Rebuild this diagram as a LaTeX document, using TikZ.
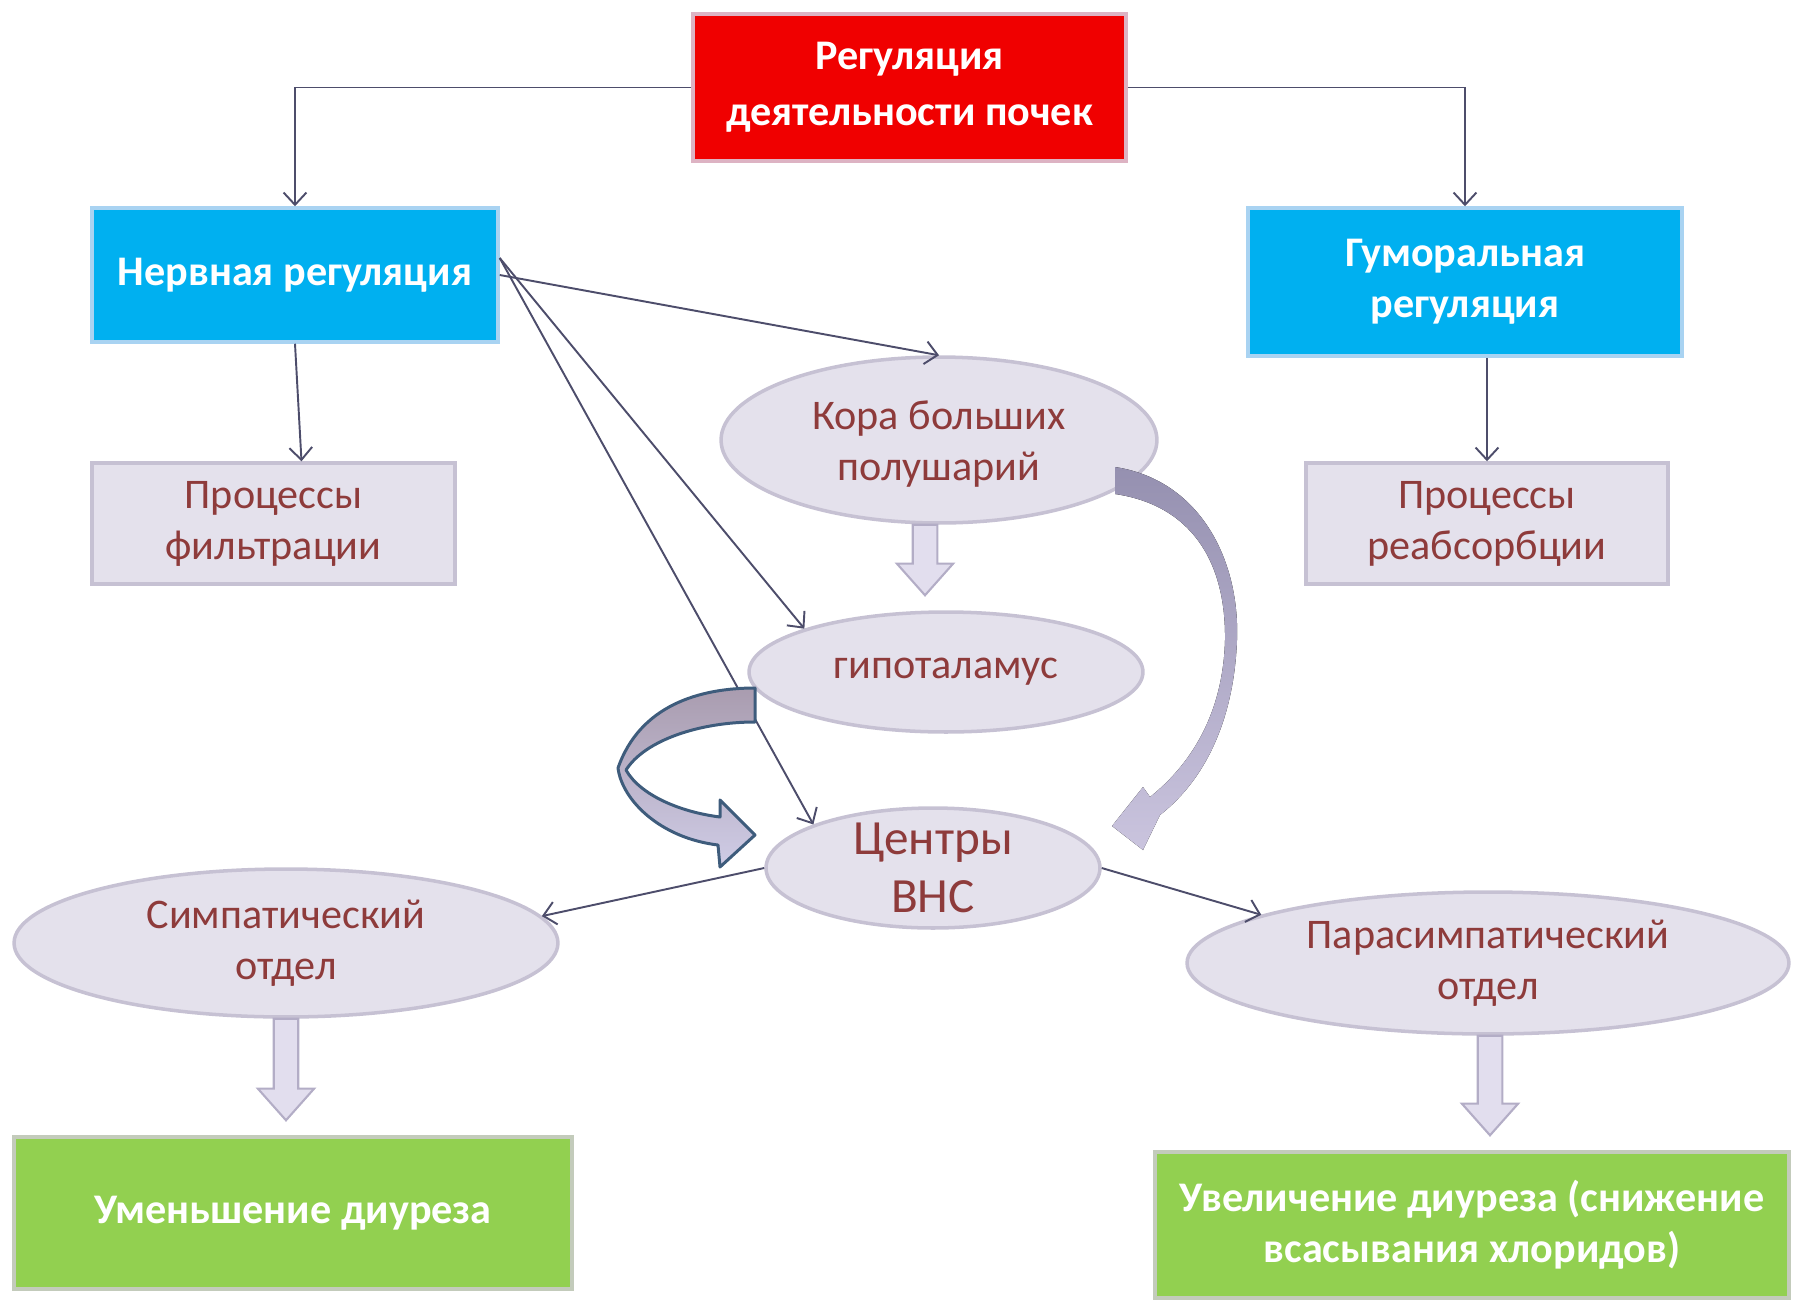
\documentclass[tikz,border=0pt]{standalone}
\usepackage{fontspec}
\setmainfont{Carlito}
\usetikzlibrary{shapes.geometric, arrows.meta, calc}
\definecolor{BoxRed}{HTML}{F00000}
\definecolor{RedEdge}{HTML}{DDB3C3}
\definecolor{BoxBlue}{HTML}{00B0F0}
\definecolor{BlueEdge}{HTML}{A9D3F2}
\definecolor{BoxGreen}{HTML}{92D050}
\definecolor{GreenEdge}{HTML}{C3CBBB}
\definecolor{LavFill}{HTML}{E4E1EC}
\definecolor{LavLine}{HTML}{C6C1D3}
\definecolor{TxtRed}{HTML}{8E3B3B}
\definecolor{LineGray}{HTML}{4D4D6B}
\definecolor{ArrFill}{HTML}{E2DEEE}
\definecolor{ArrLine}{HTML}{B3ADC6}
\definecolor{CurveTop}{HTML}{9590B0}
\definecolor{CurveBot}{HTML}{CAC4DE}
\definecolor{LoopLine}{HTML}{3E5C7C}
\definecolor{LoopTop}{HTML}{A99CAF}
\definecolor{LoopBot}{HTML}{CFCCE6}

\begin{document}
\begin{tikzpicture}[x=0.02cm, y=-0.02cm,
  every node/.style={font=\fontsize{24}{29}\selectfont},
  colbox/.style={rectangle, align=center, text=white, line width=2pt, font=\bfseries\fontsize{24}{29}\selectfont},
  lavbox/.style={rectangle, align=center, text=TxtRed, draw=LavLine, fill=LavFill, line width=2pt},
  ell/.style={ellipse, draw=LavLine, fill=LavFill, line width=2pt, inner sep=0pt},
  elltxt/.style={align=center, text=TxtRed},
  conn/.style={LineGray, line width=1.1pt, -{Straight Barb[length=7pt, width=13pt]}},
  blockarrow/.style={draw=ArrLine, fill=ArrFill, line width=1.2pt}]
\useasboundingbox (0,0) rectangle (1802,1302);

% top level
\node[colbox, fill=BoxRed, draw=RedEdge, minimum width=8.66cm, minimum height=2.94cm,
  font=\bfseries\fontsize{24}{32}\selectfont] (reg) at (909.5,87.5) {Регуляция\\деятельности почек};
\node[colbox, fill=BoxBlue, draw=BlueEdge, minimum width=8.12cm, minimum height=2.68cm] (nerv) at (295,275) {Нервная регуляция};
\node[colbox, fill=BoxBlue, draw=BlueEdge, minimum width=8.68cm, minimum height=2.96cm] (gum) at (1465,282) {Гуморальная\\регуляция};

% processes
\node[lavbox, minimum width=7.26cm, minimum height=2.42cm] (filt) at (273.5,523.5) {Процессы\\фильтрации};
\node[lavbox, minimum width=7.24cm, minimum height=2.42cm] (reab) at (1487,523.5) {Процессы\\реабсорбции};

% ellipses
\node[ell, minimum width=8.72cm, minimum height=3.32cm] (kora) at (939,440) {};
\node[elltxt] (koraT) at (939,444) {Кора больших\\полушарий};
\node[ell, minimum width=7.88cm, minimum height=2.4cm] (gipo) at (946,672) {};
\node[elltxt] (gipoT) at (gipo) {гипоталамус};
\node[ell, minimum width=6.68cm, minimum height=2.4cm] (cvns) at (933,868) {};
\node[elltxt, font=\fontsize{28}{33}\selectfont] (cvnsT) at (cvns) {Центры\\ВНС};
\node[ell, minimum width=10.88cm, minimum height=2.96cm] (simp) at (286,943) {};
\node[elltxt] (simpT) at (simp) {Симпатический\\отдел};
\node[ell, minimum width=12.04cm, minimum height=2.84cm] (para) at (1488,963) {};
\node[elltxt] (paraT) at (para) {Парасимпатический\\отдел};

% results
\node[colbox, fill=BoxGreen, draw=GreenEdge, minimum width=11.16cm, minimum height=3.04cm] (umen) at (293,1213) {Уменьшение диуреза};
\node[colbox, fill=BoxGreen, draw=GreenEdge, minimum width=12.68cm, minimum height=2.92cm] (uvel) at (1472,1225) {Увеличение диуреза (снижение\\всасывания хлоридов)};

% thin connectors
\draw[conn] (reg.west) -| (nerv.north);
\draw[conn] (reg.east) -| (gum.north);
\draw[conn] (nerv.south) -- ([xshift=0.56cm]filt.north);
\draw[conn] (reab.north |- gum.south) -- (reab.north);
\draw[conn] (nerv.east) -- (kora.north);
\draw[conn] ([yshift=0.34cm]nerv.east) -- (gipo.163);
\draw[conn] ([yshift=0.34cm]nerv.east) -- (cvns.160);
\draw[conn] (cvns.west) -- (simp.6);
\draw[conn] (cvns.east) -- (para.168);

% block arrows
\foreach \a/\b/\s in {kora/gipo/-0.28cm, simp/umen/0cm, para/uvel/0.04cm}
  \draw[blockarrow] let \p1=([xshift=\s]\a.south), \p2=([yshift=0.3cm]\b.north) in
    (\x1-7pt,\y1) -- (\x1-7pt,\y2+18pt) -- (\x1-16pt,\y2+18pt) -- (\x1,\y2)
    -- (\x1+16pt,\y2+18pt) -- (\x1+7pt,\y2+18pt) -- (\x1+7pt,\y1) -- cycle;

% curved arrow kora -> centres
\fill[top color=CurveTop, bottom color=CurveBot]
  (1115,467) .. controls (1200,480) and (1240,560) .. (1237,640)
  .. controls (1234,720) and (1205,780) .. (1160,815)
  -- (1143,850) -- (1112,826) -- (1143,787) -- (1150,797)
  .. controls (1190,765) and (1223,715) .. (1225,640)
  .. controls (1226,560) and (1190,505) .. (1115,494) -- cycle;

% curved arrow hypothalamus -> centres
\draw[LoopLine, line width=1.7pt, top color=LoopTop, bottom color=LoopBot, line join=round]
  (755,688) .. controls (700,688) and (640,705) .. (618,768)
  .. controls (622,800) and (660,838) .. (718,845)
  -- (720,867) -- (755,835) -- (720,800) -- (720,817)
  .. controls (680,812) and (640,795) .. (626,770)
  .. controls (645,740) and (700,722) .. (755,722) -- cycle;
\end{tikzpicture}
\end{document}
